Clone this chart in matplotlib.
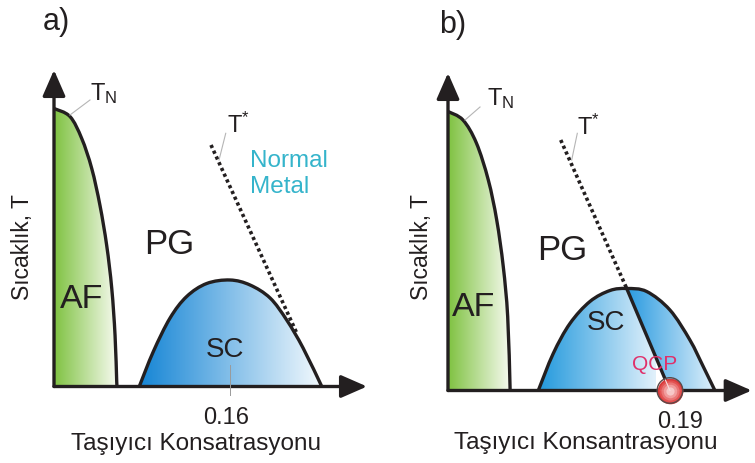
import numpy as np
import matplotlib
matplotlib.use('Agg')
import matplotlib.pyplot as plt
from matplotlib.patches import PathPatch
from matplotlib.path import Path
from matplotlib.colors import LinearSegmentedColormap

plt.rcParams['font.family'] = ['Liberation Sans', 'DejaVu Sans']
plt.rcParams['mathtext.fontset'] = 'custom'
plt.rcParams['mathtext.rm'] = 'Liberation Sans'
plt.rcParams['mathtext.it'] = 'Liberation Sans:italic'

INK = '#231f20'

# ---- panel a) data (doping p, temperature in arbitrary units) ----
af_a_p = [0.0, 0.0145, 0.0252, 0.0343, 0.0418, 0.0479, 0.0525, 0.0555, 0.0570, 0.0573]
af_a_T = [278, 270, 248, 218, 181, 141, 98, 51, 5, 0]
sc_a_p = [0.0775, 0.0903, 0.1055, 0.1206, 0.1388, 0.1600, 0.1782, 0.1964, 0.2115, 0.2264, 0.2434]
sc_a_T = [0, 35, 68.5, 90, 103, 106.5, 101.5, 88.5, 66.5, 38.5, 0]
tstar_a_p = [0.1427, 0.2206]
tstar_a_T = [241.5, 53.5]
tick_a = 0.16

# ---- panel b) data ----
af_b_p = [0.0, 0.0128, 0.0243, 0.0345, 0.0417, 0.0473, 0.0511, 0.0531, 0.0531]
af_b_T = [279, 270.5, 247.5, 210.5, 170.5, 124, 74, 4, 0]
sc_b_p = [0.0773, 0.0901, 0.1044, 0.1215, 0.1387, 0.1530, 0.1701, 0.1900, 0.2071, 0.2185, 0.2285]
sc_b_T = [0, 37, 67, 89, 100, 102, 99, 80.5, 50.5, 24, 0]
tstar_b_p = [0.0965, 0.1530, 0.1900]
tstar_b_T = [250.5, 102, 0]
qcp_b = 0.19

W, H = 755, 463
fig = plt.figure(figsize=(W / 100, H / 100), dpi=100)


def make_axes(x0, y0, x1, y1, xmax, ymax):
    # pixel box -> axes, data origin at the lower-left corner
    ax = fig.add_axes([x0 / W, (H - y0) / H, (x1 - x0) / W, (y0 - y1) / H])
    ax.set_axis_off()
    return ax


def cr_segments(xs, ys):
    # smooth curve through the read points (Catmull-Rom as cubic Bezier)
    P = np.column_stack([xs, ys]).astype(float)
    n = len(P)
    segs = []
    for i in range(n - 1):
        p0, p1, p2, p3 = P[max(i - 1, 0)], P[i], P[i + 1], P[min(i + 2, n - 1)]
        segs.append((p1, p1 + (p2 - p0) / 6, p2 - (p3 - p1) / 6, p2))
    return segs


def seg_path(segs, extra=(), close=False):
    verts = [segs[0][0]]
    codes = [Path.MOVETO]
    for s in segs:
        verts += [s[1], s[2], s[3]]
        codes += [Path.CURVE4] * 3
    for e in extra:
        verts.append(e)
        codes.append(Path.LINETO)
    if close:
        verts.append(verts[0])
        codes.append(Path.CLOSEPOLY)
    return Path(verts, codes)


def grad_fill(ax, path, c0, c1, x0, x1, top):
    patch = PathPatch(path, facecolor='none', edgecolor='none')
    ax.add_patch(patch)
    cmap = LinearSegmentedColormap.from_list('g', [c0, c1])
    img = ax.imshow(np.linspace(0, 1, 256).reshape(1, -1), cmap=cmap, aspect='auto',
                    extent=[x0, x1, 0, top + 5], origin='lower', zorder=1,
                    interpolation='bilinear')
    img.set_clip_path(patch)


def outline(ax, segs):
    ax.add_patch(PathPatch(seg_path(segs), facecolor='none', edgecolor=INK, lw=2.4,
                           capstyle='round', joinstyle='round', zorder=3))


def draw_axes_arrows(ax, xmax, ymax):
    style = '-|>,head_length=0.8,head_width=0.35'
    for xy in [(0, ymax), (xmax, 0)]:
        ax.annotate('', xy=xy, xytext=(0, 0), annotation_clip=False,
                    arrowprops=dict(arrowstyle=style, mutation_scale=20, lw=2.4,
                                    color=INK, shrinkA=0, shrinkB=0), zorder=4)


def af_dome(ax, af_p, af_T):
    segs = cr_segments(af_p, af_T)
    grad_fill(ax, seg_path(segs, extra=[(0, 0)], close=True), '#7fc241', '#f8fbf2',
              0, af_p[-1], max(af_T))
    outline(ax, segs)


def dotted(ax, xs, ys):
    ax.plot(xs, ys, color=INK, lw=2.6, dashes=(0.9, 0.85), dash_capstyle='butt', zorder=5)


# ================= panel a =================
ax = make_axes(54, 386.5, 367, 70, 0.2845, 316.5)
sc_segs = cr_segments(sc_a_p, sc_a_T)
grad_fill(ax, seg_path(sc_segs, close=True), '#1585d5', '#f3f9fd', sc_a_p[0], sc_a_p[-1], max(sc_a_T))
outline(ax, sc_segs)
dotted(ax, tstar_a_p, tstar_a_T)
ax.plot([tick_a, tick_a], [21.5, -8.5], color='#9a9a9a', lw=0.7, zorder=5, clip_on=False)
af_dome(ax, af_a_p, af_a_T)
draw_axes_arrows(ax, 0.2845, 316.5)
ax.set_xlim(0, 0.2845)
ax.set_ylim(0, 316.5)

ax.plot([0.0327, 0.0145], [286.5, 271.5], color='#b5b5b5', lw=0.8, zorder=5)
ax.plot([0.1561, 0.1500], [253.2, 226.5], color='#b5b5b5', lw=0.8, zorder=5)

ax.text(0.0018, 364.5, 'a)', fontsize=22, color=INK, ha='center', va='center')
ax.text(0.0327, 286.5, r'T$_{\mathrm{N}}$', fontsize=17, color=INK, ha='left', va='baseline')
ax.text(0.1573, 253.5, r'T$^{*}$', fontsize=17, color=INK, ha='left', va='baseline')
ax.text(0.1782, 219.5, 'Normal', fontsize=17.5, color='#35b4cb', ha='left', va='baseline')
ax.text(0.1782, 193.5, 'Metal', fontsize=17.5, color='#35b4cb', ha='left', va='baseline')
ax.text(0.1045, 142.5, 'PG', fontsize=25, color=INK, ha='center', va='center')
ax.text(0.0255, 86.5, 'AF', fontsize=24.5, color=INK, ha='center', va='center')
ax.text(0.1555, 36.5, 'SC', fontsize=20, color=INK, ha='center', va='center')
ax.text(0.1564, -31.5, '0.16', fontsize=17, color=INK, ha='center', va='center')
ax.text(0.129, -57.5, 'Taşıyıcı Konsatrasyonu', fontsize=17.5, color=INK, ha='center', va='center')
ax.text(-0.0282, 139.5, 'Sıcaklık, T', fontsize=16.5, color=INK, ha='center', va='center', rotation=90)

# ================= panel b =================
bx = make_axes(448, 390.5, 751.7, 73, 0.26, 317.5)
i_pk = sc_b_p.index(tstar_b_p[1])
sc_segs = cr_segments(sc_b_p, sc_b_T)
qcp_pt = (tstar_b_p[2], tstar_b_T[2])
grad_fill(bx, seg_path(sc_segs[:i_pk], extra=[qcp_pt], close=True), '#2299dd', '#e2f1fb',
          sc_b_p[0], 0.178, max(sc_b_T))
grad_fill(bx, seg_path(sc_segs[i_pk:], extra=[qcp_pt], close=True), '#2a9be0', '#e2f1fb',
          tstar_b_p[1], sc_b_p[-1], max(sc_b_T))
outline(bx, sc_segs)
dotted(bx, tstar_b_p[:2], tstar_b_T[:2])
bx.plot(tstar_b_p[1:], tstar_b_T[1:], color=INK, lw=2.4, zorder=5)
af_dome(bx, af_b_p, af_b_T)
draw_axes_arrows(bx, 0.26, 317.5)
bx.set_xlim(0, 0.26)
bx.set_ylim(0, 317.5)

# QCP sphere
for s, c in [(340, '#d83a3a'), (250, '#e25252'), (170, '#ea7676'), (95, '#f19d9d'), (35, '#f7c8c8')]:
    bx.scatter([qcp_b], [0], s=s, color=c, zorder=6, clip_on=False, linewidths=0)
bx.scatter([qcp_b], [0], s=340, facecolor='none', edgecolor='#5a4a4a', linewidths=1.0, zorder=6, clip_on=False)
bx.plot([qcp_b - 0.0095, qcp_b + 0.0095], [0, 0], color='#f6dede', lw=0.8, zorder=7)
bx.plot([0.1861, qcp_b], [10.5, 0], color='#f6dede', lw=0.8, zorder=7)

bx.plot([0.0274, 0.0146], [283.5, 270.5], color='#b5b5b5', lw=0.8, zorder=5)
bx.plot([0.1107, 0.1059], [257.2, 230.5], color='#b5b5b5', lw=0.8, zorder=5)

bx.text(0.0043, 365.5, 'b)', fontsize=22, color=INK, ha='center', va='center')
bx.text(0.0334, 285.5, r'T$_{\mathrm{N}}$', fontsize=17, color=INK, ha='left', va='baseline')
bx.text(0.1104, 255.5, r'T$^{*}$', fontsize=17, color=INK, ha='left', va='baseline')
bx.text(0.0976, 140.5, 'PG', fontsize=25, color=INK, ha='center', va='center')
bx.text(0.0223, 82.5, 'AF', fontsize=24.5, color=INK, ha='center', va='center')
bx.text(0.1352, 67.5, 'SC', fontsize=20, color=INK, ha='center', va='center')
bx.text(0.1772, 25.5, 'QCP', fontsize=15, color='#e0306a', ha='center', va='center', zorder=8)
bx.text(0.1986, -31.5, '0.19', fontsize=17, color=INK, ha='center', va='center')
bx.text(0.1181, -52.5, 'Taşıyıcı Konsantrasyonu', fontsize=17.5, color=INK, ha='center', va='center')
bx.text(-0.0231, 143.5, 'Sıcaklık, T', fontsize=16.5, color=INK, ha='center', va='center', rotation=90)

fig.savefig('out.png', dpi=100, facecolor='white')
